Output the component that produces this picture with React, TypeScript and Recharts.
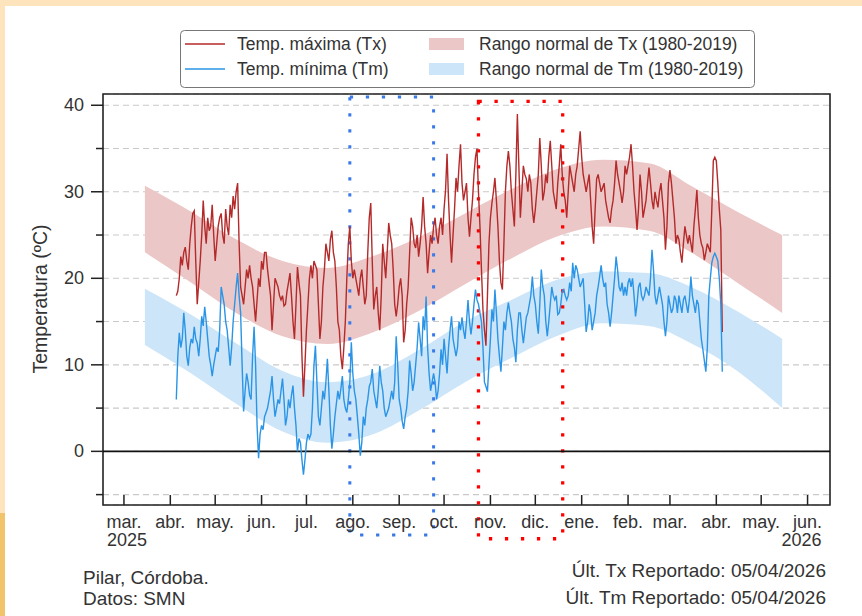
import {
  ComposedChart, Area, Line, XAxis, YAxis, CartesianGrid,
  ReferenceLine, ReferenceArea,
} from 'recharts';

// x values are days counted from 1 Mar 2025
const FIRST_DAY = 35; // 5 Apr 2025

const monthTicks = [0, 31, 61, 92, 122, 153, 184, 214, 245, 275, 306, 337, 365, 396, 426, 457];
const monthLabels = ['mar.', 'abr.', 'may.', 'jun.', 'jul.', 'ago.', 'sep.', 'oct.', 'nov.', 'dic.', 'ene.', 'feb.', 'mar.', 'abr.', 'may.', 'jun.'];
const tempTicks = [-5, 0, 5, 10, 15, 20, 25, 30, 35, 40];

// normal ranges 1980-2019, mid-month
const bandDays = [14, 45, 75, 106, 136, 167, 198, 228, 259, 289, 320, 351, 379, 410, 440];
const txNormLow = [23, 19.5, 16, 13.3, 12.4, 13.8, 16.3, 19.3, 22.3, 24.8, 26, 25.5, 23, 19.5, 16];
const txNormHigh = [30.7, 27.7, 24.5, 22, 21.2, 22.6, 24.8, 27.5, 30.3, 32.6, 33.7, 33.3, 30.7, 27.7, 25];
const tmNormLow = [12.3, 9, 5.5, 2.3, 1, 2, 4.8, 8, 10.8, 13.3, 14.8, 14.5, 12.5, 9.3, 5];
const tmNormHigh = [18.8, 15.8, 12.5, 9.3, 8, 9, 11.8, 15, 17.5, 19.8, 20.8, 20.6, 19, 16.2, 13];

// daily maximum, 5 Apr 2025 - 5 Apr 2026
const txDaily = [
  18, 18.5, 20, 22.5, 21.5, 23, 23.6, 22, 21, 24,
  26, 27.5, 27.8, 22, 17, 19.5, 22, 25, 29, 26,
  24, 27, 25.5, 26, 28.5, 25, 22, 24, 26, 27,
  27.5, 25, 24, 28, 26, 25, 28.5, 27, 29.5, 28,
  30, 31, 24, 19, 18, 17, 19, 21, 20, 21.5,
  20, 19, 17, 15, 17.5, 20, 19, 22, 21, 23,
  23, 21, 19.5, 18, 14, 17, 20, 19.5, 19, 18,
  17.5, 18, 16.8, 17, 18.5, 19.5, 20.6, 18, 15, 13,
  17, 21.3, 19.5, 18, 11, 6.3, 10, 14, 17, 20,
  21.5, 20, 22, 21.5, 21, 17, 13, 15, 19, 21,
  24, 23, 22, 24.5, 25.5, 23, 22, 19, 15, 14,
  11, 9.5, 12, 15, 20, 24, 26, 22, 20, 21,
  20, 19, 18, 20, 21, 19, 17, 18, 23, 27,
  28.7, 22, 16.4, 18, 19, 16, 14, 18, 24, 22,
  20, 23, 26.4, 25, 24, 21, 17, 15.6, 17, 19,
  20, 18, 12.6, 14, 17, 19, 23, 27, 26, 24,
  23.5, 25, 22.5, 24, 26, 29.4, 26, 24, 20.6, 23,
  25, 24, 26, 27, 25, 24, 26, 27, 25, 28,
  30.2, 34.4, 29, 25, 21.8, 25, 28, 31.6, 30, 33,
  35.5, 31, 29, 30, 31, 27, 24.8, 27, 29, 32,
  34, 35, 30, 26, 21, 16.4, 14, 12.2, 18, 24,
  27, 28.7, 30, 31.6, 29, 26, 22, 19.5, 18.7, 24,
  30, 33, 34.7, 33, 30, 28, 26, 32, 39, 33,
  27, 30, 33, 32, 31.5, 30, 32, 31, 28, 26.4,
  28, 30, 32, 36.2, 33, 29, 30, 32, 31, 34,
  35.9, 33, 30, 29, 28, 31, 33, 35.5, 32, 30,
  29, 27, 30, 33, 32, 31, 30, 32, 33, 35,
  37, 34, 32, 31, 30, 31, 32, 29, 26, 24,
  28, 31.5, 32, 31, 30, 30.5, 31, 29, 28, 27,
  26.4, 28, 29, 31, 33.6, 32, 31, 30, 28.7, 30,
  33, 32, 33, 34, 35.5, 33, 30, 28, 25.6, 28,
  32, 30, 27, 28, 29, 31, 32.8, 31, 29, 28,
  30, 29, 28.2, 30, 31, 29, 27, 23.3, 26, 31,
  32.5, 31, 29, 27, 24, 25, 24.5, 23, 21.8, 24,
  26, 25, 24, 25, 24, 23, 26, 28, 30.2, 27,
  25, 24, 23.5, 22.1, 23, 24, 23.5, 23, 28, 33.6,
  34, 33.6, 31, 28, 25.6, 13.8,
];

// daily minimum, 5 Apr 2025 - 5 Apr 2026
const tmDaily = [
  6, 11, 13.7, 12, 13, 16, 14, 11, 9.9, 12,
  13, 12.5, 14.4, 13, 12.5, 11, 13, 15.6, 14.5, 16.7,
  15, 13, 11, 10, 8.7, 10, 11, 12, 11.5, 14,
  19, 18, 17, 15, 14, 12, 9.9, 12, 15, 17,
  19, 20.6, 18, 16, 10, 4.6, 7, 9, 8, 6.5,
  6, 11, 14.4, 10, 3, -0.8, 2, 3, 2.5, 4,
  4.5, 5, 6, 7, 8.7, 6, 4, 5, 6, 5.5,
  7, 8.4, 6, 3, 4, 6, 5, 6.5, 7.6, 5,
  3, 0, 1.5, 1, -1, -2.7, -1, 1, 2, 1.5,
  2, 5, 9.9, 12.2, 8, 4, 3, 5, 7, 6,
  8, 10.7, 7, 3, 0.3, 2, 4, 5.5, 7, 6,
  7.2, 8.7, 6, 5, 4.5, 6, 8, 12.6, 9, 7,
  6, 4.1, 2, -0.5, 1, 4, 3, 5, 6, 7.5,
  8, 9.5, 7, 6, 5, 7, 9.9, 8, 7, 5,
  4, 4.5, 5, 6, 7, 6, 8, 13.3, 10, 6,
  5, 3.5, 2.6, 4, 5, 7, 10.5, 9, 7, 8,
  10, 12, 14.9, 13, 11, 15.6, 14, 17.9, 12, 9,
  7, 8, 9, 8, 6, 7, 9, 11.8, 10, 13,
  11, 9, 12, 14, 15.6, 13, 12, 11, 12, 15,
  14, 15.5, 14, 13, 15, 17.5, 15, 13.5, 15, 17,
  18.7, 17.5, 17, 16, 15, 12, 8, 7.5, 6.9, 10,
  13, 16.4, 15, 18.7, 16, 13, 11, 9.2, 12, 15,
  14, 16, 17.2, 16, 15, 13, 12, 10.3, 14, 16,
  16, 14, 12.5, 14, 15.5, 16, 17, 18, 20.2, 18,
  17, 15, 13.6, 17, 21, 19, 18, 15, 13.3, 15,
  17, 19, 18, 17.5, 18, 15.8, 16, 17, 18.5, 18.7,
  18, 17.5, 18, 19.5, 18.5, 21.8, 20, 21.5, 21, 20,
  19, 19.5, 20, 17, 13.8, 15, 17, 16, 14, 15,
  16, 18, 19, 20.2, 21.5, 20, 19, 19.5, 17, 16,
  14.4, 16, 18, 20, 22.5, 21, 19, 18.5, 19.5, 18,
  19, 18, 19.5, 20, 19, 20, 18, 15.6, 17, 19,
  19.5, 18, 17.5, 18, 19, 18.5, 18, 20, 23.3, 21,
  18, 17, 18, 19, 18, 17, 15, 13.3, 15, 18,
  17, 16, 16.5, 18, 17.5, 16, 18, 17, 16, 17.5,
  18, 17, 16, 17.5, 20.2, 18, 17, 16, 17.5, 17,
  15, 13, 11.8, 10.5, 9.2, 12, 18, 20, 21.8, 22.5,
  22.9, 22.5, 22, 20, 17, 9.2,
];

const daily = txDaily.map((tx, i) => ({ day: FIRST_DAY + i, tx, tm: tmDaily[i] }));
const txBand = bandDays.map((day, i) => ({ day, range: [txNormLow[i], txNormHigh[i]] }));
const tmBand = bandDays.map((day, i) => ({ day, range: [tmNormLow[i], tmNormHigh[i]] }));

const FONT = '"Liberation Sans", Arial, sans-serif';
const TEXT = '#333';
const RED = '#b42a2a';
const BLUE = '#2a95e6';
const PINK = '#ecc7c7';
const SKY = '#cde5f8';

function MonthTick({ x, y, payload }: any) {
  const i = monthTicks.indexOf(payload.value);
  const last = i === monthTicks.length - 1;
  return (
    <g>
      <line x1={x} x2={x} y1={y} y2={y - 10} stroke="#222" strokeWidth={1.5} />
      <text x={x} y={y + 23} textAnchor="middle" fontSize={18} fill={TEXT} fontFamily={FONT}>
        {monthLabels[i]}
      </text>
      {i === 0 && (
        <text x={x - 17} y={y + 41} textAnchor="start" fontSize={18} fill={TEXT} fontFamily={FONT}>2025</text>
      )}
      {last && (
        <text x={x + 14} y={y + 41} textAnchor="end" fontSize={18} fill={TEXT} fontFamily={FONT}>2026</text>
      )}
    </g>
  );
}

function TempTick({ x, y, payload }: any) {
  const major = payload.value % 10 === 0;
  return (
    <g>
      <line x1={x - (major ? 12 : 7)} x2={x} y1={y} y2={y} stroke="#222" strokeWidth={1.5} />
      {major && (
        <text x={x - 19} y={y + 6} textAnchor="end" fontSize={18} fill={TEXT} fontFamily={FONT}>
          {payload.value}
        </text>
      )}
    </g>
  );
}

export default function App() {
  return (
    <div style={{ position: 'relative', width: 862, height: 616, background: '#fff', fontFamily: FONT }}>
      <style>{'body{margin:0}'}</style>
      <ComposedChart width={862} height={616} margin={{ top: 94, right: 32, bottom: 71, left: 43 }}>
        <CartesianGrid vertical={false} stroke="#c9c9c9" strokeDasharray="6 4" strokeWidth={1.1} />
        <XAxis
          type="number"
          dataKey="day"
          domain={[-14, 472]}
          allowDataOverflow
          ticks={monthTicks}
          interval={0}
          tick={<MonthTick />}
          tickSize={0}
          tickMargin={0}
          axisLine={false}
          tickLine={false}
          height={40}
        />
        <YAxis
          type="number"
          domain={[-6.2, 41.3]}
          allowDataOverflow
          ticks={tempTicks}
          interval={0}
          tick={<TempTick />}
          tickSize={0}
          tickMargin={0}
          axisLine={false}
          tickLine={false}
          width={60}
        />
        <Area data={txBand} dataKey="range" type="monotone" fill={PINK} fillOpacity={1} stroke="none" isAnimationActive={false} />
        <Area data={tmBand} dataKey="range" type="monotone" fill={SKY} fillOpacity={1} stroke="none" isAnimationActive={false} />
        <ReferenceLine y={0} stroke="#111" strokeWidth={1.8} />
        <Line data={daily} dataKey="tx" type="linear" stroke={RED} strokeWidth={1.4} dot={false} activeDot={false} isAnimationActive={false} />
        <Line data={daily} dataKey="tm" type="linear" stroke={BLUE} strokeWidth={1.4} dot={false} activeDot={false} isAnimationActive={false} />
        <ReferenceArea x1={-14} x2={472} y1={-6.2} y2={41.3} fill="none" stroke="#222" strokeWidth={1.6} ifOverflow="visible" />
        <ReferenceArea x1={151} x2={207} y1={-9.66} y2={40.96} fill="none" stroke="#3a7ae8" strokeWidth={3} strokeDasharray="3.3 12.7" ifOverflow="visible" />
        <ReferenceArea x1={237} x2={293.3} y1={-10.1} y2={40.44} fill="none" stroke="#ff0000" strokeWidth={3.3} strokeDasharray="3.3 12.7" ifOverflow="visible" />
      </ComposedChart>

      <svg width={862} height={616} style={{ position: 'absolute', left: 0, top: 0, pointerEvents: 'none' }}>
        <rect x={0} y={0} width={862} height={6} fill="#fde4bd" />
        <rect x={0} y={6} width={5} height={507} fill="#fde4bd" />
        <rect x={0} y={513} width={5} height={103} fill="#f1c46c" />

        <rect x={180.5} y={30.5} width={574} height={57} rx={4} fill="#fff" stroke="#777" strokeWidth={1} />
        <line x1={185} x2={225} y1={44} y2={44} stroke={RED} strokeWidth={1.5} />
        <line x1={185} x2={225} y1={69} y2={69} stroke={BLUE} strokeWidth={1.5} />
        <text x={237} y={50} fontSize={17.5} fill={TEXT} fontFamily={FONT}>Temp. máxima (Tx)</text>
        <text x={237} y={75} fontSize={17.5} fill={TEXT} fontFamily={FONT}>Temp. mínima (Tm)</text>
        <rect x={429} y={38} width={35} height={12} fill={PINK} />
        <rect x={429} y={63} width={35} height={12} fill={SKY} />
        <text x={479} y={50} fontSize={17.5} fill={TEXT} fontFamily={FONT}>Rango normal de Tx (1980-2019)</text>
        <text x={479} y={75} fontSize={17.5} fill={TEXT} fontFamily={FONT}>Rango normal de Tm (1980-2019)</text>

        <text
          x={40}
          y={299}
          transform="rotate(-90 40 299)"
          textAnchor="middle"
          dominantBaseline="central"
          fontSize={19.5}
          fill={TEXT}
          fontFamily={FONT}
        >
          Temperatura (ºC)
        </text>

        <text x={83} y={584} fontSize={19} fill={TEXT} fontFamily={FONT}>Pilar, Córdoba.</text>
        <text x={83} y={605} fontSize={19} fill={TEXT} fontFamily={FONT}>Datos: SMN</text>
        <text x={826} y={577} textAnchor="end" fontSize={19} fill={TEXT} fontFamily={FONT}>Últ. Tx Reportado: 05/04/2026</text>
        <text x={826} y={604} textAnchor="end" fontSize={19} fill={TEXT} fontFamily={FONT}>Últ. Tm Reportado: 05/04/2026</text>
      </svg>
    </div>
  );
}
